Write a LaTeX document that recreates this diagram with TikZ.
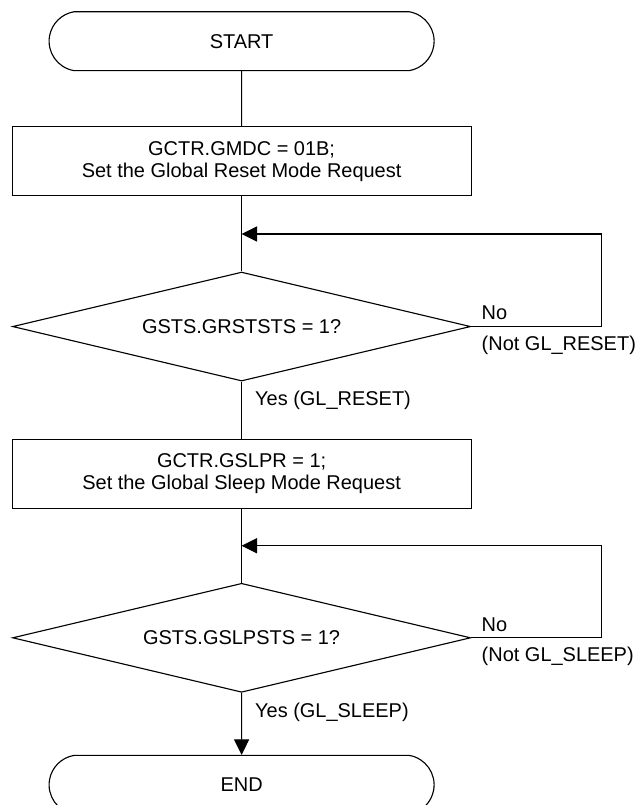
\documentclass[tikz,border=0pt]{standalone}
\usepackage{fontspec}
\setmainfont{Liberation Sans}
\usetikzlibrary{arrows.meta,positioning,shapes.geometric,shapes.misc,calc}

\begin{document}
\begin{tikzpicture}[font=\fontsize{14.2}{15.4}\selectfont,line width=0.8pt,
  term/.style={draw,rounded rectangle,rounded rectangle arc length=160,minimum width=96.25mm,minimum height=14.7mm,inner sep=0pt},
  box/.style={draw,rectangle,minimum width=114.75mm,minimum height=17.25mm,align=center,inner sep=0pt},
  dec/.style={draw,diamond,aspect=4.2,minimum width=114.5mm,minimum height=27.25mm,inner sep=0pt},
  lbl/.style={inner sep=0pt,align=left},
  >={Triangle[length=3.9mm,width=3.8mm]}]
  \useasboundingbox (0,0) rectangle (159.75mm,-201.25mm);
  \node[term] (start) at (60.4mm,-10.3mm) {START};
  \node[box,below=13.8mm of start] (gmdc) {GCTR.GMDC = 01B;\\Set the Global Reset Mode Request};
  \node[dec,below=18.75mm of gmdc] (rsts) {GSTS.GRSTSTS = 1?};
  \node[box,below=14.25mm of rsts] (gslpr) {GCTR.GSLPR = 1;\\Set the Global Sleep Mode Request};
  \node[dec,below=18.5mm of gslpr] (slpsts) {GSTS.GSLPSTS = 1?};
  \node[term,below=15.5mm of slpsts] (end) {END};
  \coordinate (j1) at ($(gmdc.south)!0.5!(rsts.north)$);
  \coordinate (j2) at ($(gslpr.south)!0.5!(slpsts.north)$);
  \draw (start)--(gmdc); \draw (gmdc)--(rsts);
  \draw (rsts)--node[lbl,right=3.25mm,pos=0.33] (yes1) {Yes (GL\_RESET)}(gslpr);
  \draw (gslpr)--(slpsts);
  \draw[->] (slpsts)--node[lbl,right=3.25mm,pos=0.31] (yes2) {Yes (GL\_SLEEP)}(end);
  \draw[->] (rsts.east) -- ++(32.5mm,0) |- (j1);
  \draw[->] (slpsts.east) -- ++(32.5mm,0) |- (j2);
  \node[lbl,anchor=south west] (no1) at ($(rsts.east)+(2.5mm,1.5mm)$) {No};
  \node[lbl,anchor=north west] (not1) at ($(rsts.east)+(2.5mm,-2.2mm)$) {(Not GL\_RESET)};
  \node[lbl,anchor=south west] (no2) at ($(slpsts.east)+(2.5mm,1.5mm)$) {No};
  \node[lbl,anchor=north west] (not2) at ($(slpsts.east)+(2.5mm,-2.2mm)$) {(Not GL\_SLEEP)};
\end{tikzpicture}
\end{document}
